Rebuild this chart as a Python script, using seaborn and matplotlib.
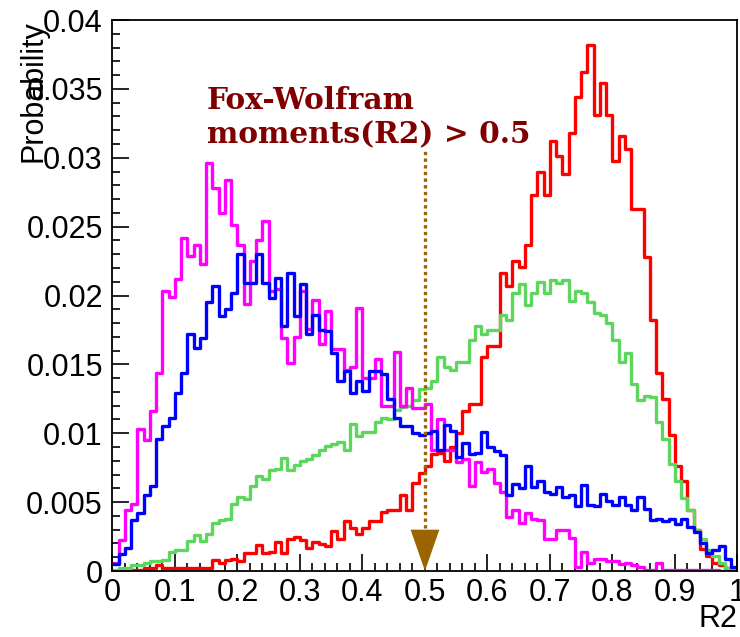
import numpy as np
import pandas as pd
import matplotlib
matplotlib.use("Agg")
import matplotlib.pyplot as plt
import seaborn as sns
from matplotlib.ticker import MultipleLocator, FixedLocator, FixedFormatter

# ---------------- data (probability per bin, in units of 1e-3) ----------------
n_bins = 100
x_min, x_max = 0.0, 1.0

red_permille = [
    0.0, 0.0, 0.1, 0.1, 0.1, 0.2, 0.2, 0.4, 0.2, 0.25,
    0.2, 0.2, 0.25, 0.25, 0.25, 0.25, 0.8, 0.6, 0.8, 0.9,
    0.7, 1.3, 1.3, 1.9, 1.3, 1.4, 2.1, 1.3, 2.3, 2.45,
    2.25, 1.7, 2.1, 1.95, 1.8, 2.9, 2.3, 3.6, 3.1, 2.7,
    3.1, 3.6, 3.6, 4.3, 4.4, 4.4, 5.5, 4.4, 6.4, 7.1,
    7.6, 8.5, 8.6, 8.0, 9.0, 10.0, 11.6, 12.1, 12.1, 15.5,
    16.3, 16.3, 21.6, 20.7, 22.5, 22.1, 23.7, 27.3, 29.0, 27.3,
    31.2, 30.1, 28.8, 31.8, 34.4, 36.2, 38.2, 33.1, 35.4, 33.1,
    29.8, 31.6, 30.6, 26.3, 26.3, 22.8, 18.2, 14.4, 12.5, 9.9,
    7.6, 6.5, 4.4, 3.0, 1.6, 1.1, 0.55, 0.4, 0.2, 0.1,
]

green_permille = [
    0.1, 0.2, 0.2, 0.4, 0.4, 0.55, 0.7, 0.7, 0.8, 1.35,
    1.5, 1.5, 2.2, 2.6, 2.2, 2.7, 3.5, 3.7, 3.75, 4.9,
    5.4, 5.2, 6.2, 6.9, 6.7, 7.3, 7.4, 8.2, 7.3, 7.7,
    8.0, 8.1, 8.4, 8.8, 9.1, 9.2, 9.4, 8.8, 10.7, 9.8,
    10.1, 10.1, 10.8, 11.1, 11.0, 11.7, 11.9, 12.0, 12.4, 13.2,
    13.3, 13.8, 15.5, 14.8, 14.6, 15.2, 15.2, 16.8, 17.8, 17.2,
    17.5, 17.5, 18.6, 18.2, 20.2, 20.8, 19.3, 20.2, 21.0, 20.2,
    21.1, 20.9, 21.1, 19.6, 20.3, 20.2, 19.5, 18.7, 18.6, 18.0,
    16.8, 15.2, 15.8, 13.6, 12.4, 12.7, 12.6, 10.8, 9.6, 7.8,
    6.5, 5.3, 4.4, 3.0, 2.3, 1.5, 1.1, 0.55, 0.2, 0.1,
]

blue_permille = [
    0.5, 1.2, 1.7, 3.7, 4.2, 5.5, 6.2, 9.6, 10.5, 11.1,
    12.9, 14.4, 17.2, 16.2, 16.9, 19.5, 20.7, 18.5, 19.0, 20.2,
    23.0, 20.9, 20.9, 23.0, 20.9, 19.8, 21.3, 17.8, 21.6, 18.5,
    20.8, 17.2, 18.6, 17.5, 17.4, 15.8, 13.8, 14.5, 12.9, 13.8,
    13.1, 14.5, 14.5, 14.3, 12.5, 11.1, 10.5, 10.5, 10.0, 9.9,
    10.0, 10.2, 8.8, 10.6, 10.2, 8.3, 9.3, 8.5, 8.6, 10.1,
    9.0, 8.7, 8.4, 5.5, 6.3, 6.0, 7.6, 6.1, 6.5, 5.7,
    5.6, 6.1, 5.4, 5.5, 4.7, 6.25, 4.8, 4.7, 5.6, 5.1,
    4.8, 5.4, 4.8, 4.4, 5.4, 4.5, 3.7, 3.75, 3.65, 3.75,
    3.4, 3.75, 3.2, 2.8, 2.0, 1.3, 1.5, 1.8, 0.9, 0.3,
]

magenta_permille = [
    0.6, 2.25, 4.4, 4.9, 10.3, 9.5, 11.6, 14.4, 20.3, 19.9,
    21.2, 24.2, 22.9, 23.7, 22.3, 29.6, 27.8, 26.0, 28.4, 25.1,
    23.7, 19.4, 22.5, 24.0, 25.4, 20.3, 20.5, 16.9, 15.1, 17.0,
    20.3, 17.6, 19.7, 16.5, 18.9, 16.1, 16.1, 14.6, 14.8, 19.1,
    14.0, 14.0, 15.4, 12.0, 12.0, 15.9, 12.0, 13.3, 11.8, 11.8,
    12.1, 8.8, 11.0, 8.8, 8.8, 7.9, 8.1, 6.2, 7.9, 7.2,
    7.4, 6.4, 5.7, 3.9, 4.4, 3.5, 4.2, 3.75, 3.7, 2.3,
    2.3, 3.0, 3.0, 2.4, 0.3, 1.4, 0.6, 0.9, 0.9, 0.7,
    0.7, 0.5, 0.6, 0.4, 0.3, 0.1, 0.1, 0.6, 0.1, 0.05,
    0.05, 0.05, 0.05, 0.05, 0.05, 0.05, 0.05, 0.0, 0.0, 0.0,
]

series_names = ["red", "green", "magenta", "blue"]
series_colors = ["#ff0000", "#5cd65c", "#ff00ff", "#0000ff"]

yticks = [0, 0.005, 0.01, 0.015, 0.02, 0.025, 0.03, 0.035, 0.04]
ytick_labels = ["0", "0.005", "0.01", "0.015", "0.02", "0.025", "0.03", "0.035", "0.04"]
xticks = [0, 0.1, 0.2, 0.3, 0.4, 0.5, 0.6, 0.7, 0.8, 0.9, 1.0]
xtick_labels = ["0", "0.1", "0.2", "0.3", "0.4", "0.5", "0.6", "0.7", "0.8", "0.9", "1"]

cut_value = 0.5
annotation = "Fox-Wolfram\nmoments(R2) > 0.5"

# ---------------- build table ----------------
edges = np.linspace(x_min, x_max, n_bins + 1)
centers = 0.5 * (edges[:-1] + edges[1:])
values = {
    "red": red_permille,
    "green": green_permille,
    "magenta": magenta_permille,
    "blue": blue_permille,
}
frames = []
for name in series_names:
    frames.append(pd.DataFrame({"R2": centers,
                                "prob": np.asarray(values[name]) * 1e-3,
                                "sample": name}))
df = pd.concat(frames, ignore_index=True)

# ---------------- plot ----------------
sns.set_theme(style="white")
plt.rcParams["font.family"] = ["Liberation Sans", "DejaVu Sans"]

fig = plt.figure(figsize=(7.4, 6.37), dpi=100)
ax = fig.add_axes([0.152, 0.1036, 0.8446, 0.865])

for name, col in zip(series_names, series_colors):
    sub = df[df["sample"] == name]
    sns.histplot(data=sub, x="R2", weights="prob", bins=n_bins,
                 binrange=(x_min, x_max),
                 element="step", fill=False, color=col, linewidth=2.4,
                 ax=ax)

ax.set_xlim(x_min, x_max)
ax.set_ylim(0, 0.04)

# cut marker: dotted line + filled arrow head
brown = "#9a6400"
ax.plot([cut_value, cut_value], [0.0031, 0.0306], linestyle=(0, (1, 1)),
        color=brown, linewidth=2.4, zorder=5)
ax.fill([cut_value - 0.023, cut_value + 0.023, cut_value],
        [0.0030, 0.0030, 0.0], color=brown, zorder=6, linewidth=0)

ax.text(0.151, 0.881, annotation, transform=ax.transAxes,
        fontfamily="DejaVu Serif", fontweight="bold", fontsize=21.3,
        color="#800000", va="top", ha="left", linespacing=1.24)

# axes styling
for sp in ax.spines.values():
    sp.set_color("black")
    sp.set_linewidth(1.3)

ax.xaxis.set_major_locator(FixedLocator(xticks))
ax.xaxis.set_major_formatter(FixedFormatter(xtick_labels))
ax.xaxis.set_minor_locator(MultipleLocator(0.02))
ax.yaxis.set_major_locator(FixedLocator(yticks))
ax.yaxis.set_major_formatter(FixedFormatter(ytick_labels))
ax.yaxis.set_minor_locator(MultipleLocator(0.001))

ax.tick_params(axis="both", which="both", direction="in", top=False,
               right=False, bottom=True, left=True, color="black",
               width=1.2)
ax.tick_params(axis="both", which="major", length=12, labelsize=22,
               labelcolor="black")
ax.tick_params(axis="both", which="minor", length=6)
ax.tick_params(axis="x", which="major", pad=5)
ax.tick_params(axis="y", which="major", pad=7)

ax.set_ylabel("Probability", fontsize=22, loc="top", color="black")
ax.yaxis.set_label_coords(-0.103, 1.0)
ax.set_xlabel("R2", fontsize=22, loc="right", color="black")
ax.xaxis.set_label_coords(1.0, -0.06)

ax.grid(False)
fig.savefig("out.png", dpi=100)
